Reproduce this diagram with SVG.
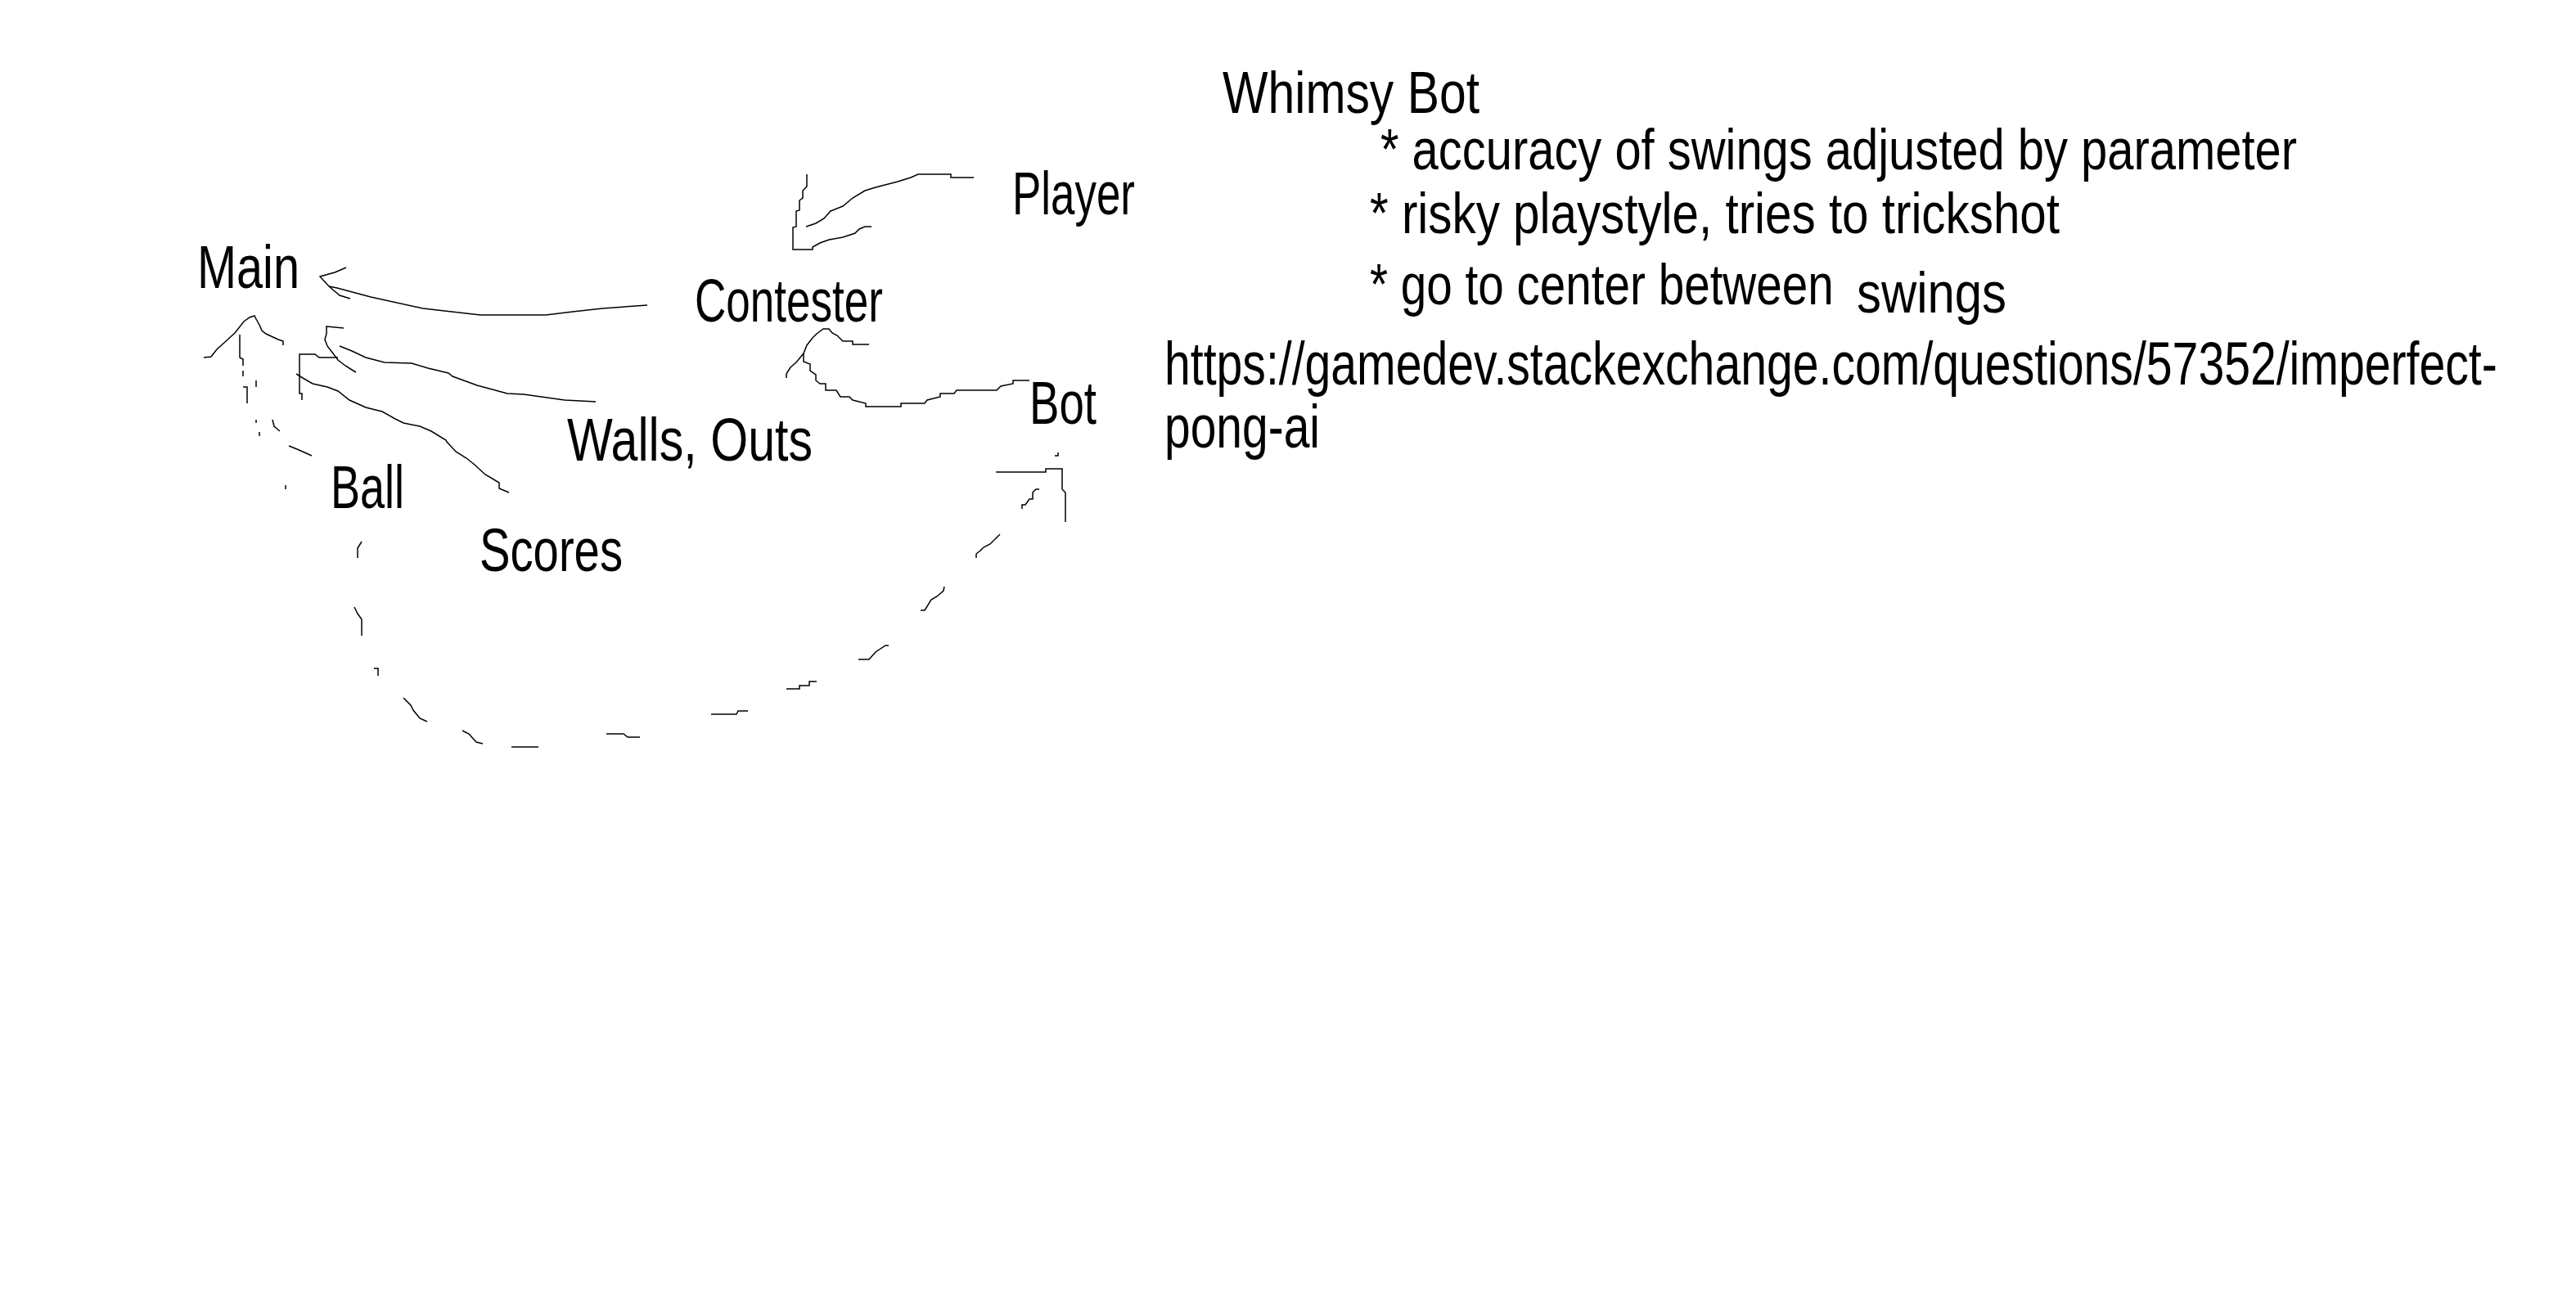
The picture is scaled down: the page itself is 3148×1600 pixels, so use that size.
<svg xmlns="http://www.w3.org/2000/svg" width="3148" height="1600" viewBox="0 0 3148 1600">
<style>
text{font-family:"Liberation Sans","DejaVu Sans",sans-serif;font-size:74px;fill:#000}
text.n{font-size:70px}
.c{fill:none;stroke:#000;stroke-width:1.5;stroke-linejoin:miter}
</style>
<rect width="3148" height="1600" fill="#fff"/>
<g id="connectors">
<!-- Contester -> Main -->
<polyline class="c" points="791,373 736,377 700,381 667,385 587,385 517,377 453,363 412,352 402,350"/>
<polyline class="c" points="423,327 409,333 391,338 402,350 415,361 428,365"/>
<!-- Walls, Outs -> Main -->
<polyline class="c" points="728,491 690,489 640,482 620,481 583,471 553,460 548,456 523,450 503,444 470,443 447,437 430,429 415,423"/>
<polyline class="c" points="420,401 399,399 399,408 397,415 400,423 407,432 413,440 422,447 430,452 435,455"/>
<!-- Scores -> Main -->
<polyline class="c" points="622,602 610,597 610,590 593,580 580,568 570,560 557,552 546,540 545,538 527,527 513,521 493,517 483,512 467,503 447,498 427,489 413,478 400,473 382,469 370,462 362,457"/>
<polyline class="c" points="413,437 390,437 385,433 366,433 366,481 369,481 369,489"/>
<!-- Player -> Contester -->
<polyline class="c" points="1190,217 1162,217 1162,213 1122,213 1113,217 1097,222 1070,229 1057,233 1042,242 1030,252 1015,258 1007,267 997,273 985,277"/>
<polyline class="c" points="986,213 986,228 981,233 981,242 977,245 977,257 973,258 973,277 969,278 969,305 993,305 993,302 1002,297 1013,293 1030,290 1045,285 1050,280 1057,277 1065,277"/>
<!-- Bot -> Contester -->
<polyline class="c" points="1258,465 1238,465 1238,469 1223,472 1218,477 1169,477 1166,481 1149,481 1149,485 1133,489 1130,493 1101,493 1101,497 1058,497 1058,493 1042,489 1038,485 1027,485 1022,477 1009,477 1009,469 1002,469 997,465 997,458 990,453 990,445 982,442 982,432"/>
<polyline class="c" points="961,462 961,457 966,449 973,443 977,438 982,432 986,422 993,413 998,408 1006,402 1013,402 1017,407 1023,410 1030,417 1042,417 1042,421 1062,421"/>
<!-- Ball -> Main / Bot (dashed, hand drawn) -->
<polyline class="c" points="249,437 258,436 265,427 275,418 287,407 298,393 305,388 311,386 313,390 317,397 320,404 325,408 340,415 346,417 346,422"/>
<polyline class="c" points="293,409 293,437 297,439 297,447"/>
<polyline class="c" points="297,453 297,460"/>
<polyline class="c" points="313,465 313,473"/>
<polyline class="c" points="297,473 302,473 302,493"/>
<polyline class="c" points="313,513 313,517"/>
<polyline class="c" points="333,513 335,521 342,527"/>
<polyline class="c" points="317,528 317,533"/>
<polyline class="c" points="353,545 363,549 381,557"/>
<polyline class="c" points="349,593 349,598"/>
<polyline class="c" points="442,662 437,670 437,682"/>
<polyline class="c" points="433,742 437,750 442,757 442,777"/>
<polyline class="c" points="457,817 462,817 462,826"/>
<polyline class="c" points="493,853 502,862 505,868 513,878 522,882"/>
<polyline class="c" points="565,893 573,897 582,907 590,909"/>
<polyline class="c" points="625,913 658,913"/>
<polyline class="c" points="741,897 762,897 767,901 782,901"/>
<polyline class="c" points="869,873 900,873 902,869 914,869"/>
<polyline class="c" points="961,842 977,842 977,838 989,838 989,833 998,833"/>
<polyline class="c" points="1049,806 1062,806 1070,797 1082,789 1086,789"/>
<polyline class="c" points="1125,746 1130,746 1138,733 1145,729 1153,722 1154,717"/>
<polyline class="c" points="1193,682 1193,677 1198,673 1202,669 1210,665 1218,657 1222,653"/>
<polyline class="c" points="1249,622 1249,617 1253,617 1258,610 1262,610 1262,602 1266,598 1270,598"/>
<polyline class="c" points="1217,577 1278,577 1278,573 1298,573 1298,598 1302,602 1302,638"/>
<polyline class="c" points="1289,557 1293,557 1293,553"/>
</g>
<g id="node-main"><text x="241" y="352" textLength="125" lengthAdjust="spacingAndGlyphs">Main</text></g>
<g id="node-contester"><text x="849" y="393" textLength="230" lengthAdjust="spacingAndGlyphs">Contester</text></g>
<g id="node-player"><text x="1237" y="262" textLength="150" lengthAdjust="spacingAndGlyphs">Player</text></g>
<g id="node-bot"><text x="1258" y="518" textLength="82" lengthAdjust="spacingAndGlyphs">Bot</text></g>
<g id="node-walls"><text x="693" y="563" textLength="300" lengthAdjust="spacingAndGlyphs">Walls, Outs</text></g>
<g id="node-ball"><text x="404" y="621" textLength="90" lengthAdjust="spacingAndGlyphs">Ball</text></g>
<g id="node-scores"><text x="586" y="698" textLength="175" lengthAdjust="spacingAndGlyphs">Scores</text></g>
<g id="node-whimsy">
<text x="1494" y="138" style="font-size:72px" textLength="314" lengthAdjust="spacingAndGlyphs">Whimsy Bot</text>
<text class="n" x="1687" y="207" textLength="1120" lengthAdjust="spacingAndGlyphs">* accuracy of swings adjusted by parameter</text>
<text class="n" x="1674" y="285" textLength="843" lengthAdjust="spacingAndGlyphs">* risky playstyle, tries to trickshot</text>
<text class="n" transform="matrix(0.785 0 0 1 1674 372)" textLength="722" lengthAdjust="spacingAndGlyphs">* go to center between</text>
<text class="n" x="2269" y="382" textLength="183" lengthAdjust="spacingAndGlyphs">swings</text>
</g>
<g id="node-link">
<text transform="matrix(0.76 0 0 1 1423 470)" textLength="2143" lengthAdjust="spacingAndGlyphs">https://gamedev.stackexchange.com/questions/57352/imperfect-</text>
<text x="1423" y="547" textLength="190" lengthAdjust="spacingAndGlyphs">pong-ai</text>
</g>
</svg>
